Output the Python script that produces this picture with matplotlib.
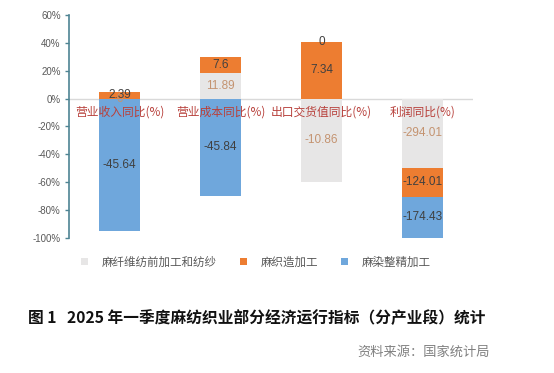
import matplotlib
matplotlib.use("Agg")
import matplotlib.pyplot as plt
from matplotlib.patches import Patch
import numpy as np

plt.rcParams['font.family'] = ['Noto Sans CJK SC', 'DejaVu Sans']

categories = ['营业收入同比(%)', '营业成本同比(%)', '出口交货值同比(%)', '利润同比(%)']
series_names = ['麻纤维纺前加工和纺纱', '麻织造加工', '麻染整精加工']
gray_vals = [0, 11.89, -10.86, -294.01]
orange_vals = [2.39, 7.6, 7.34, -124.01]
blue_vals = [-45.64, -45.84, 0, -174.43]
y_ticks = [60, 40, 20, 0, -20, -40, -60, -80, -100]

colors = ['#E7E6E6', '#ED7D31', '#6FA7DC']
label_colors = ['#C49370', '#404040', '#404040']

fig = plt.figure(figsize=(5.54, 3.73), dpi=100)
ax = fig.add_axes([0.1245, 0.362, 0.7295, 0.598])

series = [gray_vals, orange_vals, blue_vals]
data = np.array(series, dtype=float)
totals = np.abs(data).sum(axis=0)
pct = data / totals * 100

x = np.arange(len(categories))
pos_base = np.zeros(len(categories))
neg_base = np.zeros(len(categories))
for i, (vals, p) in enumerate(zip(series, pct)):
    bottoms = np.where(p >= 0, pos_base, neg_base)
    ax.bar(x, p, bottom=bottoms, width=0.4, color=colors[i], edgecolor='none', zorder=2)
    for j in range(len(x)):
        yc = bottoms[j] + p[j] / 2
        ax.text(x[j], yc, f"{vals[j]:g}", ha='center', va='center', fontsize=8.5,
                color=label_colors[i], family=['Liberation Sans', 'DejaVu Sans'], zorder=3)
    pos_base = pos_base + np.where(p >= 0, p, 0)
    neg_base = neg_base + np.where(p < 0, p, 0)

ax.axhline(0, color='#D9D9D9', lw=1, zorder=1)
ax.set_xlim(-0.5, len(categories) - 0.5)
ax.set_ylim(-100, 60)
ax.set_yticks(y_ticks)
ax.set_yticklabels([f"{t}%" for t in y_ticks], family=['Liberation Sans', 'DejaVu Sans'],
                   fontsize=7, color='#595959')
ax.set_xticks([])
for s in ['top', 'right', 'bottom']:
    ax.spines[s].set_visible(False)
ax.spines['left'].set_color('#4E8493')
ax.spines['left'].set_linewidth(1.2)
ax.tick_params(axis='y', direction='out', length=3, color='#4E8493', width=1, pad=3)

for j, c in enumerate(categories):
    ax.text(x[j], -5, c, ha='center', va='top', fontsize=8.5, color='#B8413C', zorder=4)

handles = [Patch(facecolor=colors[i], edgecolor='none') for i in range(3)]
fig.legend(handles, series_names, loc='center', bbox_to_anchor=(0.462, 1 - 262 / 373), ncol=3,
           frameon=False, fontsize=8.3, handlelength=0.6, handleheight=0.6, columnspacing=2.0,
           handletextpad=1.2, labelcolor='#595959')

fig.text(28 / 554, 1 - 318 / 373, '图 1   2025 年一季度麻纺织业部分经济运行指标（分产业段）统计',
         fontsize=11.3, fontweight='bold', color='#111111', va='center', ha='left')
fig.text(490 / 554, 1 - 352 / 373, '资料来源：国家统计局', fontsize=9.5, color='#808080',
         va='center', ha='right')

fig.savefig('out.png', dpi=100)
